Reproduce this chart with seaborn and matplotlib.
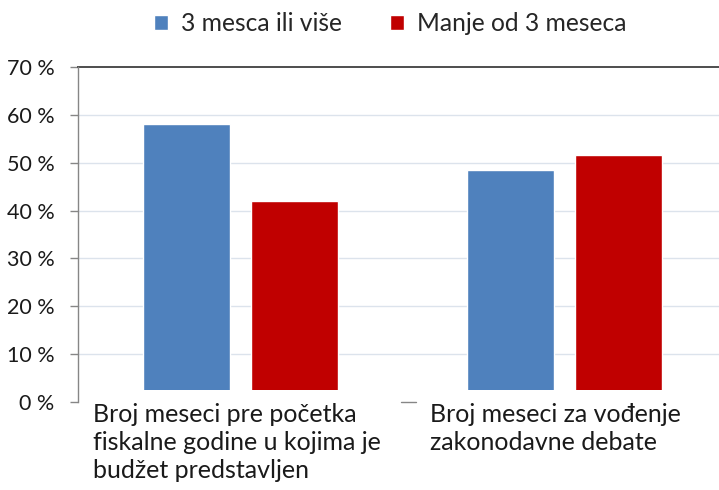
import matplotlib
matplotlib.use("Agg")
import matplotlib.pyplot as plt
import seaborn as sns
import pandas as pd

categories = ["Broj meseci pre početka\nfiskalne godine u kojima je\nbudžet predstavljen",
              "Broj meseci za vođenje\nzakonodavne debate"]
series = ["3 mesca ili više", "Manje od 3 meseca"]
values_3_or_more = [58.0, 48.4]
values_less_3 = [42.0, 51.6]
yticks = [0, 10, 20, 30, 40, 50, 60, 70]
ytick_labels = ["0 %", "10 %", "20 %", "30 %", "40 %", "50 %", "60 %", "70 %"]
colors = ["#4F81BD", "#C00000"]

df = pd.DataFrame({
    "cat": [0, 1, 0, 1],
    "series": [series[0], series[0], series[1], series[1]],
    "val": values_3_or_more + values_less_3,
})

sns.set_theme(style="white")
plt.rcParams["font.family"] = ["Lato", "DejaVu Sans"]

fig = plt.figure(figsize=(7.19, 4.9), dpi=100)
ax = fig.add_axes([78 / 719, 1 - 402 / 490, 1 - 78 / 719, (402 - 67) / 490])

sns.barplot(data=df, x="cat", y="val", hue="series", hue_order=series,
            palette=colors, width=0.666, gap=0.195, ax=ax, saturation=1,
            legend=True, order=[0, 1], native_scale=True)

ax.set_xlim(-0.5, 1.475)
ax.set_ylim(0, 70)
ax.set_yticks(yticks)
ax.set_yticklabels(ytick_labels, fontsize=15.5, color="#1a1a1a")
ax.tick_params(axis="y", direction="out", length=6, width=1, color="#868686", pad=11, left=True)
ax.set_xticks([])
ax.set_xlabel("")
ax.set_ylabel("")
for y in yticks[1:-1]:
    ax.axhline(y, color="#DCE3EC", lw=1, zorder=0)
ax.axhspan(0, 2.5, color="white", zorder=3, lw=0)

for s in ["bottom", "right"]:
    ax.spines[s].set_visible(False)
ax.spines["left"].set_color("#868686")
ax.spines["left"].set_linewidth(1)
ax.spines["left"].set_zorder(4)
ax.spines["top"].set_color("#4d4d4d")
ax.spines["top"].set_linewidth(1.4)

# small category tick on the bottom
ax.plot([0.495, 0.54], [0, 0], color="#868686", lw=1, clip_on=False, zorder=4)

label_x = [-0.455, 0.584]
for xp, lab in zip(label_x, categories):
    ax.text(xp, -0.2, lab, ha="left", va="top", fontsize=18, color="#1a1a1a",
            linespacing=1.27, clip_on=False)

handles, labels = ax.get_legend_handles_labels()
ax.legend_.remove()
fig.legend(handles, labels, loc="center", bbox_to_anchor=(0.543, 0.952), ncol=2,
           frameon=False, fontsize=17.7, handlelength=0.55, handleheight=0.55,
           columnspacing=1.95, handletextpad=0.55)

fig.savefig("out.png", dpi=100)
